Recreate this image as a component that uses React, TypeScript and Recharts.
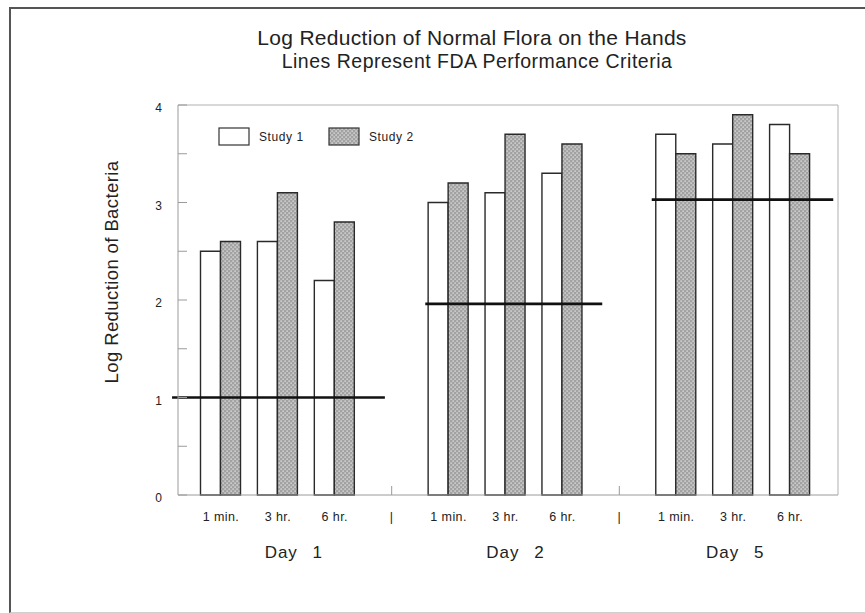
import { Bar, BarChart, Legend, ReferenceLine, XAxis, YAxis } from "recharts";

/* Log reduction bars per time point, grouped by day; black lines = FDA criteria. */

const timepoints = ["1 min.", "3 hr.", "6 hr."];
const days = ["Day 1", "Day 2", "Day 5"];
const study1 = [
  [2.5, 2.6, 2.2],
  [3.0, 3.1, 3.3],
  [3.7, 3.6, 3.8],
];
const study2 = [
  [2.6, 3.1, 2.8],
  [3.2, 3.7, 3.6],
  [3.5, 3.9, 3.5],
];
const fdaCriteria = [1.0, 1.96, 3.03];
// horizontal extent of each criterion line, in category-index units (integer = bar group centre)
const fdaExtent = [
  [-0.86, 2.88],
  [3.59, 6.7],
  [7.57, 10.76],
];
const yTicks = [0, 0.5, 1, 1.5, 2, 2.5, 3, 3.5, 4];

type Row = {
  idx: number;
  key: string;
  label: string;
  day?: string;
  dayIdx?: number;
  sep?: boolean;
  study1: number | null;
  study2: number | null;
};

const rows: Row[] = [];
days.forEach((day, d) => {
  if (d > 0) rows.push({ idx: rows.length, key: `sep${d}`, label: "|", sep: true, study1: null, study2: null });
  timepoints.forEach((t, i) =>
    rows.push({
      idx: rows.length,
      key: `${day}-${t}`,
      label: t,
      day: i === 1 ? day : undefined,
      dayIdx: d,
      study1: study1[d][i],
      study2: study2[d][i],
    })
  );
});
const rowByKey = new Map(rows.map((r) => [r.key, r]));

const FONT = '"Liberation Sans", Arial, sans-serif';
const INK = "#222";
const AXIS = "#9a9a9a";
const PAD = { left: 14.5, right: 19.5 };
const CENTER_PAD = { left: 43, right: 48 }; // same range, measured to band centres
const DAY_SHIFT = [16, 10, 2];

function XTick(props: any) {
  const { x, y, payload } = props;
  const row = rowByKey.get(payload.value);
  if (!row) return null;
  return (
    <g fontFamily={FONT} fill={INK}>
      {row.sep && <line x1={x} x2={x} y1={y - 9} y2={y} stroke={AXIS} />}
      <text x={x} y={y + 22} textAnchor="middle" dominantBaseline="central" fontSize={12.5} letterSpacing={0.4}>
        {row.label}
      </text>
      {row.day && (
        <text
          x={x + DAY_SHIFT[row.dayIdx ?? 0]}
          y={y + 57}
          textAnchor="middle"
          dominantBaseline="central"
          fontSize={17}
          letterSpacing={1}
          style={{ wordSpacing: 9 }}
        >
          {row.day}
        </text>
      )}
    </g>
  );
}

function YTick(props: any) {
  const { x, y, payload } = props;
  const v = payload.value as number;
  return (
    <g>
      <line x1={x} x2={x + 9} y1={y} y2={y} stroke={AXIS} />
      {Number.isInteger(v) && (
        <text x={x - 16} y={y + 3} textAnchor="end" dominantBaseline="central" fontFamily={FONT} fontSize={12} fill={INK}>
          {v}
        </text>
      )}
    </g>
  );
}

function LegendBox() {
  return (
    <svg width={220} height={22} style={{ display: "block" }}>
      <rect x={4} y={2} width={30} height={17} fill="#fff" stroke="#333" strokeWidth={1.2} />
      <text x={44} y={11} dominantBaseline="central" fontFamily={FONT} fontSize={12} letterSpacing={0.6} fill={INK}>
        Study 1
      </text>
      <rect x={114} y={2} width={30} height={17} fill="url(#stipple)" stroke="#333" strokeWidth={1.2} />
      <text x={154} y={11} dominantBaseline="central" fontFamily={FONT} fontSize={12} letterSpacing={0.6} fill={INK}>
        Study 2
      </text>
    </svg>
  );
}

export default function App() {
  return (
    <div
      style={{
        position: "absolute",
        left: 0,
        top: 0,
        width: 865,
        height: 613,
        overflow: "hidden",
        background: "#fff",
      }}
    >
      <svg width={0} height={0} style={{ position: "absolute" }}>
        <defs>
          <pattern id="stipple" width={4} height={4} patternUnits="userSpaceOnUse">
            <rect width={4} height={4} fill="#a2a2a2" />
            <rect x={0.4} y={0.4} width={1.4} height={1.4} fill="#dedede" />
            <rect x={2.4} y={2.4} width={1.4} height={1.4} fill="#dedede" />
          </pattern>
        </defs>
      </svg>

      {/* page frame */}
      <div
        style={{
          position: "absolute",
          left: 9,
          top: 7,
          width: 900,
          height: 603,
          borderLeft: "2px solid #555",
          borderTop: "2px solid #555",
          borderBottom: "1px solid #d0d0d0",
        }}
      />

      <BarChart
        width={865}
        height={613}
        data={rows}
        margin={{ top: 105, right: 26, bottom: 0, left: 138 }}
        barGap={0}
        barSize={20}
        style={{ position: "absolute", left: 0, top: 0 }}
      >
        <XAxis
          dataKey="key"
          height={118}
          interval={0}
          padding={PAD}
          tickSize={0}
          tickMargin={0}
          tickLine={false}
          axisLine={{ stroke: AXIS }}
          tick={(p: any) => <XTick {...p} />}
        />
        <XAxis
          xAxisId="num"
          dataKey="idx"
          type="number"
          scale="linear"
          domain={[0, rows.length - 1]}
          allowDataOverflow
          padding={CENTER_PAD}
          hide
        />
        <YAxis
          domain={[0, 4]}
          ticks={yTicks}
          width={40}
          interval={0}
          tickSize={0}
          tickMargin={0}
          tickLine={false}
          axisLine={{ stroke: AXIS }}
          tick={(p: any) => <YTick {...p} />}
        />
        <YAxis
          yAxisId="frame"
          orientation="right"
          domain={[0, 4]}
          width={1}
          tick={false}
          tickLine={false}
          axisLine={{ stroke: "#b0b0b0" }}
        />
        <ReferenceLine y={4} stroke="#b0b0b0" />
        <Legend
          layout="horizontal"
          verticalAlign="middle"
          align="center"
          wrapperStyle={{ left: 215, top: 126, width: 220 }}
          content={() => <LegendBox />}
        />
        <Bar dataKey="study1" name="Study 1" fill="#fff" stroke="#2a2a2a" strokeWidth={1.4} isAnimationActive={false} />
        <Bar dataKey="study2" name="Study 2" fill="url(#stipple)" stroke="#2a2a2a" strokeWidth={1.4} isAnimationActive={false} />
        {fdaCriteria.map((v, i) => (
          <ReferenceLine
            key={i}
            xAxisId="num"
            segment={[
              { x: fdaExtent[i][0], y: v },
              { x: fdaExtent[i][1], y: v },
            ]}
            ifOverflow="visible"
            stroke="#111"
            strokeWidth={2.6}
          />
        ))}
      </BarChart>

      <svg width={865} height={613} style={{ position: "absolute", left: 0, top: 0, pointerEvents: "none" }}>
        <g fontFamily={FONT} fill={INK} textAnchor="middle">
          <text x={472} y={45} fontSize={21} letterSpacing={0.3}>
            Log Reduction of Normal Flora on the Hands
          </text>
          <text x={477} y={68} fontSize={19.5} letterSpacing={0.5}>
            Lines Represent FDA Performance Criteria
          </text>
          <text
            transform="translate(111 272) rotate(-90)"
            dominantBaseline="central"
            fontSize={18.5}
            letterSpacing={0.4}
          >
            Log Reduction of Bacteria
          </text>
        </g>
      </svg>
    </div>
  );
}
